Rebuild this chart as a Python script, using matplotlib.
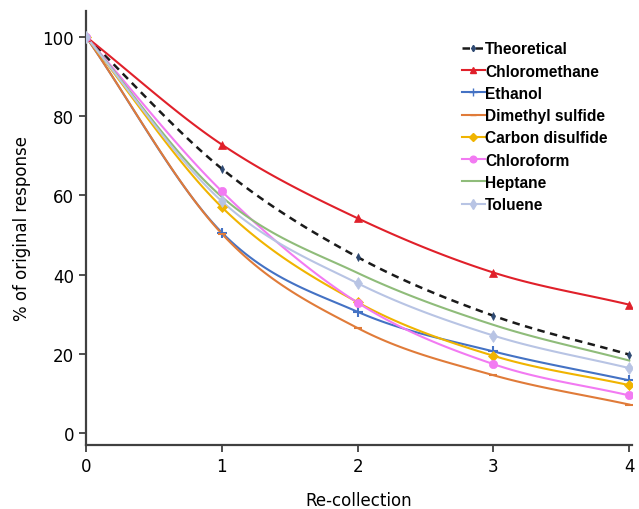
import numpy as np
import matplotlib
matplotlib.use("Agg")
import matplotlib.pyplot as plt
from matplotlib.lines import Line2D

# Re-collection rounds and % of original response per compound
recollection = [0, 1, 2, 3, 4]
theoretical = [100, 66.7, 44.4, 29.6, 19.8]
chloromethane = [100, 72.8, 54.2, 40.5, 32.4]
ethanol = [100, 50.6, 30.6, 20.6, 13.3]
dimethyl_sulfide = [100, 50.3, 26.5, 14.6, 7.2]
carbon_disulfide = [100, 57.0, 33.0, 19.5, 12.1]
chloroform = [100, 61.0, 32.9, 17.4, 9.5]
heptane = [100, 59.6, 40.4, 27.3, 18.3]
toluene = [100, 58.5, 37.8, 24.6, 16.4]

series = [
    ("Theoretical", theoretical, "#1a1a1a", "d", "#2f4a73", (0, (3, 2.2)), 1.8, 4),
    ("Chloromethane", chloromethane, "#e0202a", "^", "#e0202a", "-", 1.5, 6),
    ("Ethanol", ethanol, "#4472c4", "+", "#4472c4", "-", 1.5, 7),
    ("Dimethyl sulfide", dimethyl_sulfide, "#e07b39", "_", "#e07b39", "-", 1.5, 6),
    ("Carbon disulfide", carbon_disulfide, "#f0b400", "D", "#f0b400", "-", 1.5, 5),
    ("Chloroform", chloroform, "#f27af2", "o", "#f27af2", "-", 1.5, 6),
    ("Heptane", heptane, "#8fbc7a", "", "#8fbc7a", "-", 1.5, 0),
    ("Toluene", toluene, "#b8c4e4", "d", "#b8c4e4", "-", 1.5, 6),
]


def smooth(x, y, n=30):
    """Catmull-Rom style smoothing through the given points."""
    x = np.asarray(x, float)
    y = np.asarray(y, float)
    px = np.concatenate([[2 * x[0] - x[1]], x, [2 * x[-1] - x[-2]]])
    py = np.concatenate([[2 * y[0] - y[1]], y, [2 * y[-1] - y[-2]]])
    xs, ys = [], []
    t = np.linspace(0, 1, n)
    for i in range(1, len(px) - 2):
        p0, p1, p2, p3 = (np.array([px[j], py[j]]) for j in range(i - 1, i + 3))
        c1 = p1 + (p2 - p0) / 6
        c2 = p2 - (p3 - p1) / 6
        b = ((1 - t) ** 3)[:, None] * p1 + (3 * (1 - t) ** 2 * t)[:, None] * c1 \
            + (3 * (1 - t) * t ** 2)[:, None] * c2 + (t ** 3)[:, None] * p2
        xs.append(b[:, 0])
        ys.append(b[:, 1])
    return np.concatenate(xs), np.concatenate(ys)


plt.rcParams["font.family"] = ["DejaVu Sans"]
fig = plt.figure(figsize=(6.39, 5.10), dpi=100)
ax = fig.add_axes([0.1346, 0.1255, 0.8545, 0.851])

handles = []
for name, vals, lc, mk, mc, ls, lw, ms in series:
    sx, sy = smooth(recollection, vals)
    ax.plot(sx, sy, color=lc, linestyle=ls, linewidth=lw, zorder=2)
    if mk:
        ax.plot(recollection, vals, linestyle="none", marker=mk, color=mc,
                markersize=ms, markeredgewidth=1.5 if mk in "+_" else 0.5, zorder=3)
    handles.append(Line2D([], [], color=lc, linestyle=ls, linewidth=lw,
                          marker=mk if mk else None, markerfacecolor=mc,
                          markeredgecolor=mc, markersize=ms * 0.8))

ax.set_xlim(0, 4.02)
ax.set_ylim(-3, 106.5)
ax.set_xticks(recollection)
ax.set_yticks([0, 20, 40, 60, 80, 100])
for s in ("top", "right"):
    ax.spines[s].set_visible(False)
for s in ("left", "bottom"):
    ax.spines[s].set_color("#404040")
    ax.spines[s].set_linewidth(1.6)
ax.tick_params(axis="both", colors="#404040", labelcolor="black", labelsize=12,
               length=5, width=1.3)
ax.set_xlabel("Re-collection", fontsize=12, labelpad=12)
ax.set_ylabel("% of original response", fontsize=12, labelpad=8)

leg = ax.legend(handles=handles, labels=[s[0] for s in series],
                loc="upper left", bbox_to_anchor=(0.668, 0.955), frameon=False,
                handlelength=1.5, handletextpad=0.0, labelspacing=0.465,
                borderaxespad=0.3,
                prop={"family": "Liberation Sans", "weight": "bold", "size": 11.2})

fig.savefig("out.png", dpi=100)
